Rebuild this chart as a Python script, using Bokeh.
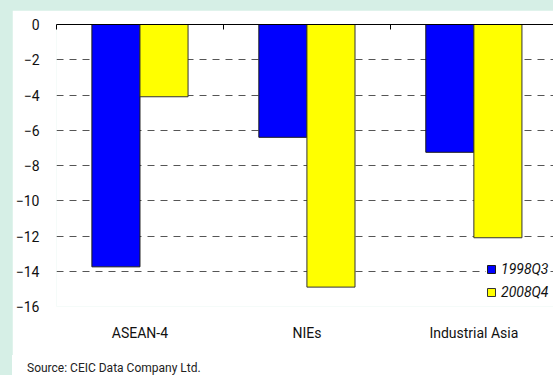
from bokeh.plotting import figure
from bokeh.models import (ColumnDataSource, LinearAxis, FixedTicker, Range1d,
                          Legend, LegendItem, Div)
from bokeh.layouts import column
from bokeh.transform import dodge
from bokeh.embed import file_html
from bokeh.resources import INLINE

categories = ["ASEAN-4", "NIEs", "Industrial Asia"]
series_names = ["1998Q3", "2008Q4"]
q1998 = [-13.75, -6.4, -7.25]
q2008 = [-4.1, -14.9, -12.1]
y_ticks = [0, -2, -4, -6, -8, -10, -12, -14, -16]
source_text = "Source: CEIC Data Company Ltd."

FONT = "Roboto"
MINT = "#d6efe6"

pos = [i + 0.5 for i in range(len(categories))]
src = ColumnDataSource(dict(x=pos, a=q1998, b=q2008))

p = figure(width=541, height=345, output_backend="svg", toolbar_location=None,
           x_range=Range1d(0, 2.977), y_range=Range1d(-16, 0),
           x_axis_location=None, y_axis_location=None,
           min_border_left=42, min_border_top=14, min_border_right=0,
           min_border_bottom=49)
p.border_fill_color = "white"
p.background_fill_color = "white"
p.outline_line_color = None

bw = 0.288
r1 = p.vbar(x=dodge("x", -0.144, range=p.x_range), top=0, bottom="a", width=bw,
            source=src, fill_color="#0000ff", line_color="#1a1a1a", line_width=1)
r2 = p.vbar(x=dodge("x", 0.144, range=p.x_range), top=0, bottom="b", width=bw,
            source=src, fill_color="#ffff00", line_color="#333333", line_width=1)

# y axis (labels only)
yax = LinearAxis(ticker=FixedTicker(ticks=y_ticks))
yax.axis_line_color = None
yax.major_tick_line_color = None
yax.minor_tick_line_color = None
yax.major_label_standoff = 11
yax.major_label_text_font = FONT
yax.major_label_text_font_size = "14px"
yax.major_label_text_color = "#111111"
p.add_layout(yax, "left")

# top axis = zero line with category boundary ticks
tax = LinearAxis(ticker=FixedTicker(ticks=[0, 1, 2, 3]))
tax.axis_line_color = "black"
tax.axis_line_width = 1
tax.major_tick_in = 5
tax.major_tick_out = 0
tax.major_tick_line_color = "black"
tax.minor_tick_line_color = None
tax.major_label_text_font_size = "0px"
tax.major_label_text_alpha = 0
p.add_layout(tax, "above")

# bottom axis: category labels
bax = LinearAxis(ticker=FixedTicker(ticks=pos))
bax.major_label_overrides = {p_: c for p_, c in zip(pos, categories)}
bax.axis_line_color = None
bax.major_tick_line_color = None
bax.minor_tick_line_color = None
bax.major_label_standoff = 12
bax.major_label_text_font = FONT
bax.major_label_text_font_size = "14px"
bax.major_label_text_color = "#111111"
p.add_layout(bax, "below")

# grid
p.ygrid.ticker = FixedTicker(ticks=y_ticks)
p.ygrid.grid_line_color = "#555555"
p.ygrid.grid_line_dash = "7 6"
p.ygrid.grid_line_width = 1
p.xgrid.grid_line_color = None

legend = Legend(items=[LegendItem(label=series_names[0], renderers=[r1]),
                       LegendItem(label=series_names[1], renderers=[r2])],
                location=(430, 6))
legend.glyph_width = 10
legend.glyph_height = 10
legend.label_height = 14
legend.spacing = 7
legend.padding = 4
legend.margin = 0
legend.label_standoff = 5
legend.border_line_color = None
legend.background_fill_color = "white"
legend.background_fill_alpha = 1
legend.label_text_font = FONT
legend.label_text_font_style = "italic"
legend.label_text_font_size = "14px"
legend.label_text_color = "#111111"
p.add_layout(legend, "center")

div = Div(text=source_text, width=541, height=20,
          styles={"background-color": "white", "font-family": "Roboto",
                  "font-size": "12px", "color": "#222222",
                  "padding-left": "15px", "padding-top": "6px",
                  "line-height": "14px", "box-sizing": "border-box",
                  "margin": "0"})

layout = column(p, div, spacing=0)

html = file_html(layout, INLINE)
html = html.replace("</head>", "<style>html,body{margin:0;padding:0;} body{margin:10px 0 0 12px;background:%s;overflow:hidden;}</style></head>" % MINT, 1)
open("out.html", "w").write(html)
